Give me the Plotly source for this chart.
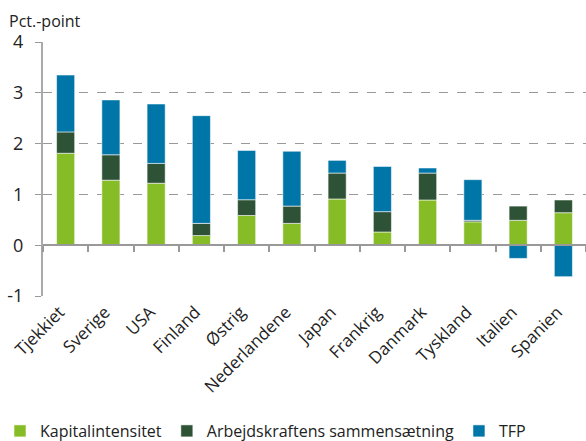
import plotly.graph_objects as go

categories = ["Tjekkiet", "Sverige", "USA", "Finland", "Østrig", "Nederlandene",
              "Japan", "Frankrig", "Danmark", "Tyskland", "Italien", "Spanien"]
kapital = [1.81, 1.28, 1.22, 0.19, 0.585, 0.43, 0.91, 0.26, 0.89, 0.46, 0.49, 0.64]
arbejde = [0.42, 0.50, 0.39, 0.24, 0.31, 0.34, 0.51, 0.40, 0.53, 0.03, 0.28, 0.25]
tfp = [1.12, 1.08, 1.17, 2.12, 0.97, 1.08, 0.25, 0.89, 0.10, 0.80, -0.26, -0.62]
y_ticks = [-1, 0, 1, 2, 3, 4]

FONT = "Open Sans"
edge = dict(color="rgba(255,255,255,0.55)", width=1)

fig = go.Figure()
fig.add_trace(go.Bar(x=categories, y=kapital, name="Kapitalintensitet",
                     marker=dict(color="#86bc25", line=edge)))
fig.add_trace(go.Bar(x=categories, y=arbejde, name="Arbejdskraftens sammensætning",
                     marker=dict(color="#2d5235", line=edge)))
fig.add_trace(go.Bar(x=categories, y=tfp, name="TFP",
                     marker=dict(color="#0075a8", line=edge)))
# invisible trace to carry the zero-line axis with boundary ticks
fig.add_trace(go.Scatter(x=categories, y=[0] * len(categories), xaxis="x2",
                         mode="markers", marker=dict(opacity=0), showlegend=False,
                         hoverinfo="skip"))

fig.update_layout(
    width=586, height=441,
    margin=dict(l=43, r=0, t=42, b=145, autoexpand=False),
    barmode="relative", bargap=0.6,
    plot_bgcolor="white", paper_bgcolor="white",
    font=dict(family=FONT, size=16, color="#222222"),
    showlegend=True,
    legend=dict(orientation="h", yref="container", y=1 - 431 / 441, yanchor="middle",
                xref="container", x=0.0, xanchor="left",
                font=dict(size=16, color="#222222"),
                itemwidth=30, tracegroupgap=0, traceorder="normal"),
    xaxis=dict(type="category", categoryorder="array", categoryarray=categories,
               range=[-0.5, len(categories) - 0.5], automargin=False,
               showline=False, showgrid=False, zeroline=False, ticks="",
               tickangle=-45, ticklabelshift=-6, ticklabelstandoff=2,
               tickfont=dict(size=17, color="#222222")),
    xaxis2=dict(type="category", categoryorder="array", categoryarray=categories,
                overlaying="x", matches="x", anchor="free", position=0.2,
                automargin=False,
                showline=True, linecolor="#999999", linewidth=2,
                ticks="outside", tickson="boundaries", ticklen=6, tickwidth=2,
                tickcolor="#999999", showticklabels=False, showgrid=False),
    yaxis=dict(range=[-1, 4], tickvals=y_ticks, ticktext=[str(v) for v in y_ticks],
               automargin=False,
               showgrid=True, gridcolor="#999999", griddash="dash", gridwidth=1,
               zeroline=False, showline=True, linecolor="#aaaaaa", linewidth=2,
               ticks="outside", ticklen=6, tickcolor="#999999",
               ticklabelstandoff=8,
               tickfont=dict(size=18, color="#222222")),
    annotations=[dict(text="Pct.-point", xref="paper", yref="paper",
                      x=-36 / 543, xanchor="left", y=1 + 21 / 254, yanchor="middle",
                      showarrow=False, font=dict(size=16, color="#222222"))],
)

fig.write_html("out.html", post_script="document.body.style.margin='0';",
               config={"displayModeBar": False})
